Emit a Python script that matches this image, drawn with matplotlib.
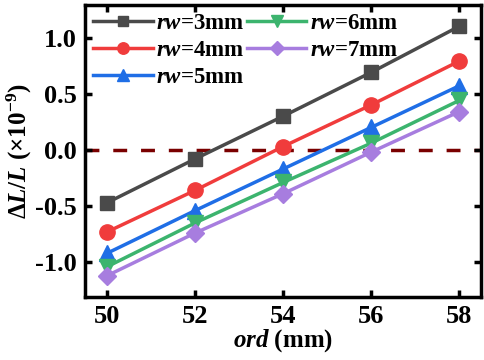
import matplotlib
matplotlib.use('Agg')
import matplotlib.pyplot as plt

plt.rcParams['font.family'] = 'Liberation Serif'
plt.rcParams['font.weight'] = 'bold'
plt.rcParams['axes.labelweight'] = 'bold'
plt.rcParams['mathtext.fontset'] = 'custom'
plt.rcParams['mathtext.rm'] = 'Liberation Serif:bold'
plt.rcParams['mathtext.it'] = 'Liberation Serif:bold:italic'
plt.rcParams['mathtext.bf'] = 'Liberation Serif:bold'

# data
ord_mm = [50, 52, 54, 56, 58]
rw_labels = ['3mm', '4mm', '5mm', '6mm', '7mm']
dl_rw3 = [-0.47, -0.08, 0.30, 0.69, 1.10]
dl_rw4 = [-0.73, -0.36, 0.03, 0.40, 0.79]
dl_rw5 = [-0.92, -0.54, -0.17, 0.20, 0.57]
dl_rw6 = [-1.04, -0.65, -0.29, 0.06, 0.44]
dl_rw7 = [-1.12, -0.74, -0.39, -0.02, 0.34]

series = [dl_rw3, dl_rw4, dl_rw5, dl_rw6, dl_rw7]
colors = ['#4a4a4a', '#f03c3c', '#1f6ee6', '#3cb46e', '#a77ddf']
markers = ['s', 'o', '^', 'v', 'D']
msizes = [10, 11, 11, 11, 9]

fig = plt.figure(figsize=(4.84, 3.6), dpi=100)
ax = fig.add_axes([0.176, 0.175, 0.818, 0.811])

ax.axhline(0, color='#7a0000', lw=2.5, ls=(0, (4, 4)), zorder=1)

for vals, lab, c, m, ms in zip(series, rw_labels, colors, markers, msizes):
    ax.plot(ord_mm, vals, color=c, marker=m, markersize=ms, lw=2.5,
            label='$rw$=' + lab, zorder=3)

ax.set_xlim(49.5, 58.5)
ax.set_ylim(-1.31, 1.29)
ax.set_xticks(ord_mm)
ax.set_yticks([-1.0, -0.5, 0.0, 0.5, 1.0])
ax.set_yticklabels(['-1.0', '-0.5', '0.0', '0.5', '1.0'])

for s in ax.spines.values():
    s.set_linewidth(2.5)
ax.tick_params(direction='in', width=2.5, length=5, labelsize=19,
               top=True, right=True, pad=6)
for t in ax.get_xticklabels() + ax.get_yticklabels():
    t.set_fontweight('bold')

ax.set_xlabel('$ord$ (mm)', fontsize=18, fontweight='bold', labelpad=-1)
ax.set_ylabel(r'$\Delta L/L$ (×10$^{-9}$)', fontsize=18, fontweight='bold',
              labelpad=1)

ax.legend(ncol=2, loc='upper left', frameon=False, fontsize=16.5,
          handlelength=2.6, columnspacing=0.1, handletextpad=0.15,
          labelspacing=0.25, borderaxespad=0.15, borderpad=0.2,
          markerscale=0.75)

fig.savefig('out.png', dpi=100)
